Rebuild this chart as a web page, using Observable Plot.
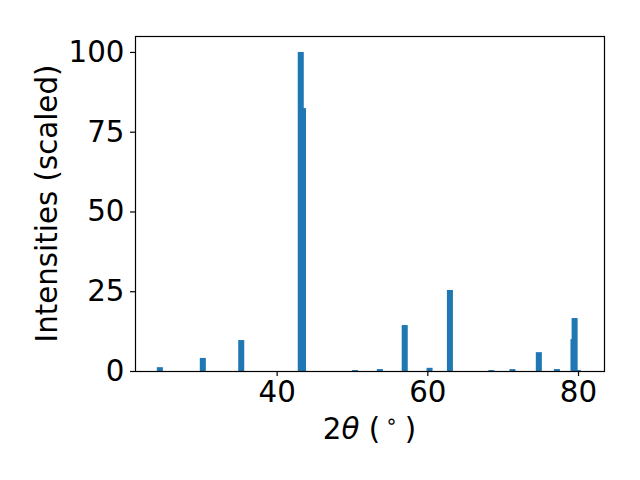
<!DOCTYPE html>
<html>
<head>
<meta charset="utf-8">
<script src="https://cdn.jsdelivr.net/npm/d3@7"></script>
<script src="https://cdn.jsdelivr.net/npm/@observablehq/plot@0.6"></script>
<style>
  html, body { margin: 0; padding: 0; background: #fff; }
  #chart svg { display: block; }
</style>
</head>
<body>
<div id="chart"></div>
<script>
// 2θ peak positions (degrees) and scaled intensities, in drawing order
const twoTheta = [24.5, 30.2, 35.3, 43.2, 43.5, 50.4, 53.7, 57.0, 60.3, 63.0, 68.5, 71.3, 74.8, 77.2, 79.4, 79.55, 80.0];
const intensity = [1.2, 4.1, 9.7, 100, 82.4, 0.3, 0.6, 14.4, 1.0, 25.4, 0.3, 0.6, 5.9, 0.6, 10.0, 16.6, 0.3];
const xTicks = [40, 60, 80];
const yTicks = [0, 25, 50, 75, 100];
const xLabel = ["2", "θ", " (", "∘", ")"];
const yLabel = "Intensities (scaled)";

const data = twoTheta.map((x, i) => ({x, y: intensity[i]}));
const barWidth = 0.8;

const W = 640, H = 480;
const mL = 135, mR = 36, mT = 36, mB = 109;
const FS = 29.3;

const plot = Plot.plot({
  width: W,
  height: H,
  marginLeft: mL,
  marginRight: mR,
  marginTop: mT,
  marginBottom: mB,
  style: {fontFamily: "DejaVu Sans", fontSize: FS + "px", color: "black", background: "white"},
  x: {domain: [21.2, 83.45], ticks: xTicks, tickSize: 5, tickPadding: 5, tickFormat: d => String(d), label: null},
  y: {domain: [0, 105], ticks: yTicks, tickSize: 5, tickPadding: 6, tickFormat: d => String(d), label: null},
  marks: [
    Plot.rectY(data, {x1: d => d.x - barWidth / 2, x2: d => d.x + barWidth / 2, y1: 0, y2: "y", fill: "#1f77b4"}),
    Plot.frame({stroke: "black", strokeWidth: 1.2})
  ]
});

document.getElementById("chart").appendChild(plot);

const svg = d3.select(plot);
svg.selectAll("[aria-label='x-axis tick'] path, [aria-label='y-axis tick'] path").attr("stroke-width", 1.2);

// x label with italic theta and superscript degree ring
const cx = mL + (W - mL - mR) / 2;
const xl = svg.append("text")
  .attr("x", cx)
  .attr("y", 439)
  .attr("text-anchor", "middle")
  .attr("font-family", "DejaVu Sans")
  .attr("font-size", FS)
  .attr("fill", "black");
xl.append("tspan").text(xLabel[0]);
xl.append("tspan").attr("font-style", "italic").text(xLabel[1]);
xl.append("tspan").text(xLabel[2]);
xl.append("tspan").attr("font-size", 20).attr("dx", 5).attr("dy", -11).text(xLabel[3]);
xl.append("tspan").attr("dx", 7).attr("dy", 11).text(xLabel[4]);

// y label rotated
svg.append("text")
  .attr("transform", `translate(57,203.5) rotate(-90)`)
  .attr("text-anchor", "middle")
  .attr("font-family", "DejaVu Sans")
  .attr("font-size", FS)
  .attr("fill", "black")
  .text(yLabel);
</script>
</body>
</html>
